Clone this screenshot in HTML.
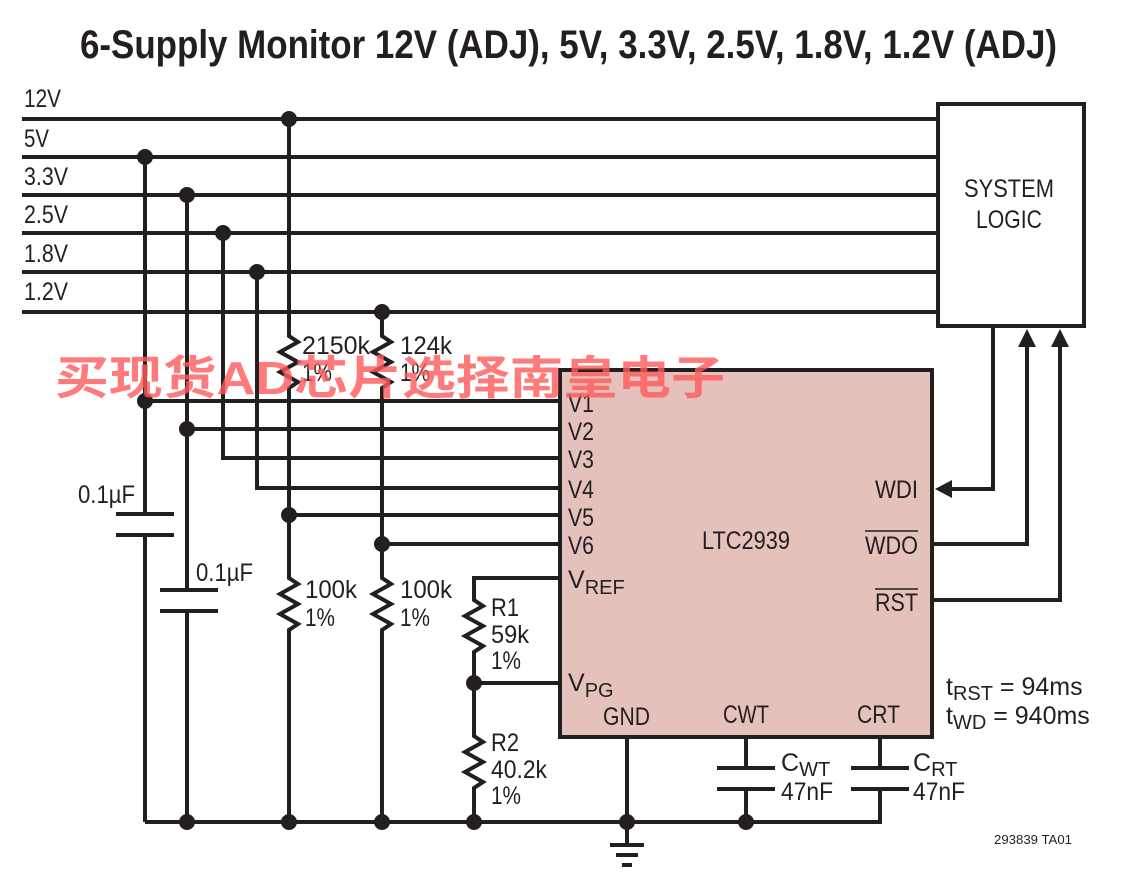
<!DOCTYPE html>
<html><head><meta charset="utf-8"><style>
html,body{margin:0;padding:0;background:#fff;}
svg{display:block}
text{font-family:"Liberation Sans",sans-serif;fill:#231f20;}
</style></head><body>
<svg width="1122" height="892" viewBox="0 0 1122 892" xmlns="http://www.w3.org/2000/svg">
<text x="80" y="58" font-size="40" font-weight="bold" textLength="977" lengthAdjust="spacingAndGlyphs">6-Supply Monitor 12V (ADJ), 5V, 3.3V, 2.5V, 1.8V, 1.2V (ADJ)</text>

<rect x="560" y="370" width="372" height="367" fill="#e5c1bc" stroke="#231f20" stroke-width="4"/>
<rect x="938" y="104" width="146" height="222" fill="#fff" stroke="#231f20" stroke-width="4"/>

<g stroke="#231f20" stroke-width="4" fill="none" stroke-linecap="butt">
<line x1="22" y1="119" x2="938" y2="119"/>
<line x1="22" y1="157" x2="938" y2="157"/>
<line x1="22" y1="195" x2="938" y2="195"/>
<line x1="22" y1="233" x2="938" y2="233"/>
<line x1="22" y1="272" x2="938" y2="272"/>
<line x1="22" y1="312" x2="938" y2="312"/>
<polyline points="145,157 145,514"/>
<polyline points="145,535 145,822"/>
<polyline points="187,195 187,590"/>
<polyline points="187,611 187,822"/>
<polyline points="223,233 223,458 560,458"/>
<polyline points="257,272 257,488 560,488"/>
<line x1="145" y1="401" x2="560" y2="401"/>
<line x1="187" y1="429" x2="560" y2="429"/>
<polyline points="289,119 289,336 298,342 280,352 298,362 280,372 298,382 289,388 289,578 298,584 280,594 298,604 280,614 298,624 289,630 289,822"/>
<polyline points="382,312 382,336 391,342 373,352 391,362 373,372 391,382 382,388 382,578 391,584 373,594 391,604 373,614 391,624 382,630 382,822"/>
<line x1="289" y1="515" x2="560" y2="515"/>
<line x1="382" y1="544" x2="560" y2="544"/>
<line x1="116" y1="514" x2="174" y2="514"/>
<line x1="116" y1="535" x2="174" y2="535"/>
<line x1="160" y1="590" x2="218" y2="590"/>
<line x1="160" y1="611" x2="218" y2="611"/>
<polyline points="560,578 474,578 474,600 483,606 465,616 483,626 465,636 483,646 474,652 474,736 483,742 465,752 483,762 465,772 483,782 474,788 474,822"/>
<line x1="474" y1="683" x2="560" y2="683"/>
<polyline points="145,822 880,822 880,789"/>
<line x1="627" y1="737" x2="627" y2="845"/>
<line x1="746" y1="737" x2="746" y2="768"/>
<line x1="746" y1="789" x2="746" y2="822"/>
<line x1="880" y1="737" x2="880" y2="768"/>
<line x1="717" y1="768" x2="775" y2="768"/>
<line x1="717" y1="789" x2="775" y2="789"/>
<line x1="851" y1="768" x2="909" y2="768"/>
<line x1="851" y1="789" x2="909" y2="789"/>
<line x1="610" y1="845" x2="644" y2="845"/>
<line x1="616" y1="855" x2="638" y2="855"/>
<line x1="622" y1="865" x2="632" y2="865"/>
<polyline points="993,326 993,489 950,489"/>
<polyline points="932,544 1027,544 1027,345"/>
<polyline points="932,600 1060,600 1060,345"/>
</g>
<g fill="#231f20">
<polygon points="935,489 952,480 952,498"/>
<polygon points="1027,329 1018,347 1036,347"/>
<polygon points="1060,329 1051,347 1069,347"/>
<circle cx="289" cy="119" r="8"/>
<circle cx="145" cy="157" r="8"/>
<circle cx="187" cy="195" r="8"/>
<circle cx="223" cy="233" r="8"/>
<circle cx="257" cy="272" r="8"/>
<circle cx="382" cy="312" r="8"/>
<circle cx="145" cy="401" r="8"/>
<circle cx="187" cy="429" r="8"/>
<circle cx="289" cy="515" r="8"/>
<circle cx="382" cy="544" r="8"/>
<circle cx="474" cy="683" r="8"/>
<circle cx="187" cy="822" r="8"/>
<circle cx="289" cy="822" r="8"/>
<circle cx="382" cy="822" r="8"/>
<circle cx="474" cy="822" r="8"/>
<circle cx="627" cy="822" r="8"/>
<circle cx="746" cy="822" r="8"/>
</g>

<g font-size="25">
<text x="24" y="107" textLength="37" lengthAdjust="spacingAndGlyphs">12V</text>
<text x="24" y="147" textLength="25" lengthAdjust="spacingAndGlyphs">5V</text>
<text x="24" y="185" textLength="44" lengthAdjust="spacingAndGlyphs">3.3V</text>
<text x="24" y="223" textLength="44" lengthAdjust="spacingAndGlyphs">2.5V</text>
<text x="24" y="262" textLength="44" lengthAdjust="spacingAndGlyphs">1.8V</text>
<text x="24" y="300" textLength="44" lengthAdjust="spacingAndGlyphs">1.2V</text>
<text x="964" y="197" textLength="90" lengthAdjust="spacingAndGlyphs">SYSTEM</text>
<text x="976" y="228" textLength="66" lengthAdjust="spacingAndGlyphs">LOGIC</text>
<text x="302" y="354" textLength="68" lengthAdjust="spacingAndGlyphs">2150k</text>
<text x="302" y="381" textLength="30" lengthAdjust="spacingAndGlyphs">1%</text>
<text x="400" y="354" textLength="52" lengthAdjust="spacingAndGlyphs">124k</text>
<text x="400" y="381" textLength="30" lengthAdjust="spacingAndGlyphs">1%</text>
<text x="568" y="412" textLength="26" lengthAdjust="spacingAndGlyphs">V1</text>
<text x="568" y="440" textLength="26" lengthAdjust="spacingAndGlyphs">V2</text>
<text x="568" y="468" textLength="26" lengthAdjust="spacingAndGlyphs">V3</text>
<text x="568" y="498" textLength="26" lengthAdjust="spacingAndGlyphs">V4</text>
<text x="568" y="526" textLength="26" lengthAdjust="spacingAndGlyphs">V5</text>
<text x="568" y="554" textLength="26" lengthAdjust="spacingAndGlyphs">V6</text>
<text x="568" y="588">V<tspan font-size="20" dy="6">REF</tspan></text>
<text x="568" y="691">V<tspan font-size="20" dy="6">PG</tspan></text>
<text x="702" y="549" textLength="88" lengthAdjust="spacingAndGlyphs">LTC2939</text>
<text x="875" y="498" textLength="43" lengthAdjust="spacingAndGlyphs">WDI</text>
<text x="865" y="554" textLength="53" lengthAdjust="spacingAndGlyphs">WDO</text>
<line x1="865" y1="531" x2="918" y2="531" stroke="#231f20" stroke-width="1.5"/>
<text x="875" y="611" textLength="43" lengthAdjust="spacingAndGlyphs">RST</text>
<line x1="875" y1="589" x2="918" y2="589" stroke="#231f20" stroke-width="1.5"/>
<text x="603" y="725" textLength="47" lengthAdjust="spacingAndGlyphs">GND</text>
<text x="723" y="723" textLength="46" lengthAdjust="spacingAndGlyphs">CWT</text>
<text x="857" y="723" textLength="43" lengthAdjust="spacingAndGlyphs">CRT</text>
<text x="78" y="503" textLength="57" lengthAdjust="spacingAndGlyphs">0.1µF</text>
<text x="196" y="581" textLength="57" lengthAdjust="spacingAndGlyphs">0.1µF</text>
<text x="305" y="598" textLength="52" lengthAdjust="spacingAndGlyphs">100k</text>
<text x="305" y="626" textLength="30" lengthAdjust="spacingAndGlyphs">1%</text>
<text x="400" y="598" textLength="52" lengthAdjust="spacingAndGlyphs">100k</text>
<text x="400" y="626" textLength="30" lengthAdjust="spacingAndGlyphs">1%</text>
<text x="491" y="616" textLength="28" lengthAdjust="spacingAndGlyphs">R1</text>
<text x="491" y="643" textLength="38" lengthAdjust="spacingAndGlyphs">59k</text>
<text x="491" y="669" textLength="30" lengthAdjust="spacingAndGlyphs">1%</text>
<text x="491" y="751" textLength="28" lengthAdjust="spacingAndGlyphs">R2</text>
<text x="491" y="778" textLength="56" lengthAdjust="spacingAndGlyphs">40.2k</text>
<text x="491" y="804" textLength="30" lengthAdjust="spacingAndGlyphs">1%</text>
<text x="781" y="771">C<tspan font-size="20" dy="5">WT</tspan></text>
<text x="781" y="800" textLength="52" lengthAdjust="spacingAndGlyphs">47nF</text>
<text x="913" y="771">C<tspan font-size="20" dy="5">RT</tspan></text>
<text x="913" y="800" textLength="52" lengthAdjust="spacingAndGlyphs">47nF</text>
<text x="946" y="695">t<tspan font-size="20" dy="5">RST</tspan><tspan dy="-5"> = 94ms</tspan></text>
<text x="946" y="724">t<tspan font-size="20" dy="5">WD</tspan><tspan dy="-5"> = 940ms</tspan></text>
</g>
<text x="994" y="844" font-size="13" textLength="78" lengthAdjust="spacingAndGlyphs">293839 TA01</text>

<text x="55" y="394" font-size="46" font-weight="bold" fill-opacity="0.8" style="fill:#ff5a5a;font-family:'Liberation Sans','Noto Sans CJK SC',sans-serif" textLength="670" lengthAdjust="spacingAndGlyphs">买现货AD芯片选择南皇电子</text>
</svg>
</body></html>
